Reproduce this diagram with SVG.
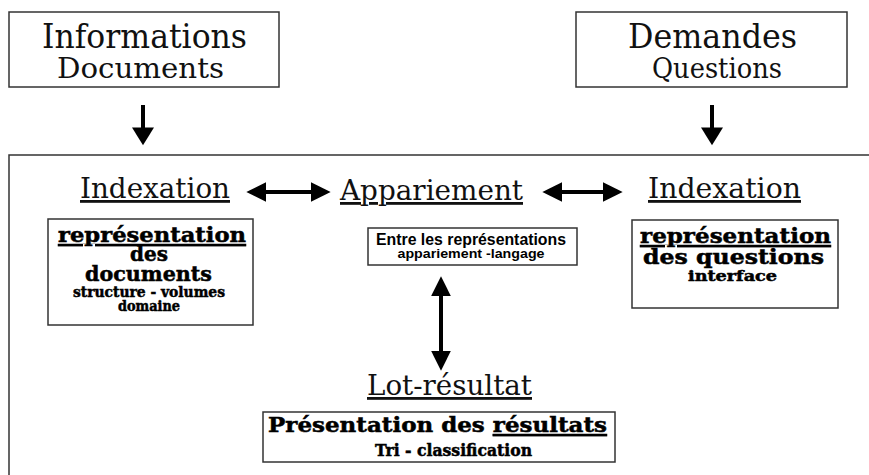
<svg xmlns="http://www.w3.org/2000/svg" width="869" height="475" viewBox="0 0 869 475">
<defs>
<style>
.bg{fill:#fff}
.box{fill:#fff;stroke:#333;stroke-width:1.5}
.frame{fill:none;stroke:#333;stroke-width:1.5}
.serif{font-family:"DejaVu Serif","Liberation Serif",serif;fill:#111;text-anchor:middle}
.sb{font-family:"DejaVu Serif","Liberation Serif",serif;font-weight:bold;fill:#000;stroke:#000;stroke-width:0.5;text-anchor:middle}
.sans{font-family:"Liberation Sans","DejaVu Sans",sans-serif;font-weight:bold;fill:#000;text-anchor:middle}
.ul{text-decoration:underline}
.shaft{stroke:#000;stroke-width:4;fill:none}
.head{fill:#000}
</style>
<marker id="ah" markerUnits="userSpaceOnUse" markerWidth="20" markerHeight="20" viewBox="0 0 18 18" refX="12" refY="9" orient="auto-start-reverse">
<path class="head" d="M0,0 L18,9 L0,18 z"/>
</marker>
<marker id="ahd" markerUnits="userSpaceOnUse" markerWidth="22" markerHeight="22" viewBox="0 0 17 21" refX="11" refY="10.5" orient="auto">
<path class="head" d="M0,0 L17,10.5 L0,21 z"/>
</marker>
</defs>
<rect class="bg" x="0" y="0" width="869" height="475"/>

<g id="frame">
<path class="frame" d="M9,475 V155 H869"/>
</g>

<g id="informations">
<rect class="box" x="9" y="12" width="270" height="75"/>
<text class="serif" x="144.5" y="48" font-size="33" textLength="205" lengthAdjust="spacingAndGlyphs">Informations</text>
<text class="serif" x="140.5" y="78" font-size="27" textLength="167" lengthAdjust="spacingAndGlyphs">Documents</text>
</g>

<g id="demandes">
<rect class="box" x="576" y="12" width="271" height="75"/>
<text class="serif" x="712.5" y="48" font-size="33" textLength="169" lengthAdjust="spacingAndGlyphs">Demandes</text>
<text class="serif" x="717" y="78" font-size="27" textLength="130" lengthAdjust="spacingAndGlyphs">Questions</text>
</g>

<g id="indexation-doc">
<text class="serif ul" x="155" y="198" font-size="28" textLength="150" lengthAdjust="spacingAndGlyphs">Indexation</text>
<rect class="box" x="48" y="219" width="205" height="106"/>
<text class="sb ul" x="152" y="242" font-size="21" textLength="188" lengthAdjust="spacingAndGlyphs">représentation</text>
<text class="sb" x="149" y="261" font-size="21" textLength="38" lengthAdjust="spacingAndGlyphs">des</text>
<text class="sb" x="148.5" y="281" font-size="21" textLength="127" lengthAdjust="spacingAndGlyphs">documents</text>
<text class="sb" x="149" y="297" font-size="14" textLength="152" lengthAdjust="spacingAndGlyphs">structure - volumes</text>
<text class="sb" x="149" y="311" font-size="14" textLength="62" lengthAdjust="spacingAndGlyphs">domaine</text>
</g>

<g id="appariement">
<text class="serif ul" x="431.5" y="200" font-size="28" textLength="183" lengthAdjust="spacingAndGlyphs">Appariement</text>
<rect class="box" x="368" y="228" width="209" height="37"/>
<text class="sans" x="471" y="245" font-size="16.5" textLength="190" lengthAdjust="spacingAndGlyphs">Entre les représentations</text>
<text class="sans" x="471" y="258" font-size="13" textLength="147" lengthAdjust="spacingAndGlyphs">appariement -langage</text>
</g>

<g id="indexation-question">
<text class="serif ul" x="724.5" y="198" font-size="28" textLength="153" lengthAdjust="spacingAndGlyphs">Indexation</text>
<rect class="box" x="632" y="220" width="206" height="88"/>
<text class="sb ul" x="735.5" y="243" font-size="21" textLength="191" lengthAdjust="spacingAndGlyphs">représentation</text>
<text class="sb" x="733.5" y="264" font-size="21" textLength="181" lengthAdjust="spacingAndGlyphs">des questions</text>
<text class="sb" x="732.5" y="281" font-size="14" textLength="89" lengthAdjust="spacingAndGlyphs">interface</text>
</g>

<g id="lot-resultat">
<text class="serif ul" x="449.5" y="395" font-size="28" textLength="165" lengthAdjust="spacingAndGlyphs">Lot-résultat</text>
<rect class="box" x="263" y="412" width="352" height="50"/>
<text class="sb" x="437.5" y="432" font-size="21" textLength="339" lengthAdjust="spacingAndGlyphs">Présentation des <tspan class="ul">résultats</tspan></text>
<text class="sb" x="453.5" y="456" font-size="16" textLength="157" lengthAdjust="spacingAndGlyphs">Tri - classification</text>
</g>

<g id="connectors">
<line class="shaft" x1="143" y1="105" x2="143" y2="139" marker-end="url(#ahd)"/>
<line class="shaft" x1="712" y1="105" x2="712" y2="139" marker-end="url(#ahd)"/>
<line class="shaft" x1="253" y1="192" x2="324" y2="192" marker-start="url(#ah)" marker-end="url(#ah)"/>
<line class="shaft" x1="549" y1="192" x2="616" y2="192" marker-start="url(#ah)" marker-end="url(#ah)"/>
<line class="shaft" x1="441" y1="283" x2="441" y2="364" marker-start="url(#ah)" marker-end="url(#ah)"/>
</g>
</svg>
